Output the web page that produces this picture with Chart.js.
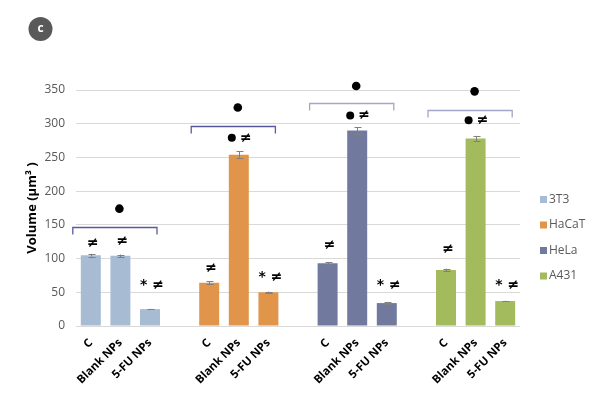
<!DOCTYPE html>
<html>
<head>
<meta charset="utf-8">
<script src="https://cdn.jsdelivr.net/npm/chart.js@4.4.0/dist/chart.umd.min.js"></script>
<style>
  html, body { margin: 0; padding: 0; background: #fff; }
  #wrap { width: 600px; height: 399px; }
</style>
</head>
<body>
<div id="wrap"><canvas id="volumeChart"></canvas></div>
<script>
// cell lines (series) and treatments (bars inside each group)
const cellLines = ['3T3', 'HaCaT', 'HeLa', 'A431'];
const treatments = ['C', 'Blank NPs', '5-FU NPs'];
const colors = ['#a7bbd3', '#e0954b', '#717a9e', '#a3bb5d'];

// mean volume (µm³) per treatment: C, Blank NPs, 5-FU NPs
const vol3T3 = [105, 104, 25];
const volHaCaT = [64, 254, 50];
const volHeLa = [93, 290, 34];
const volA431 = [83, 278, 37];

// error bars
const err3T3 = [2, 2, 0.5];
const errHaCaT = [2, 5, 1];
const errHeLa = [2, 5, 1.5];
const errA431 = [2, 4, 0.5];

// significance marks over the bars and the level (in µm³) they sit at
const marks3T3 = ['≠', '≠', '* ≠'];
const marksHaCaT = ['≠', '', '* ≠'];
const marksHeLa = ['≠', '', '* ≠'];
const marksA431 = ['≠', '', '* ≠'];
const markLevel3T3 = [122, 126, 61];
const markLevelHaCaT = [86, 0, 72];
const markLevelHeLa = [119, 0, 61];
const markLevelA431 = [114, 0, 60];

// "● ≠" over the Blank NPs bar, bracket and the dot above the bracket
const innerMarkLevel = [null, 279, 312, 305];
const bracketLevel = [147, 297, 330, 320];
const dotLevel = [174, 324, 356, 348];
const bracketColors = ['#575a9f', '#575a9f', '#a3a6c9', '#a3a6c9'];

const volumes = [vol3T3, volHaCaT, volHeLa, volA431];
const errors = [err3T3, errHaCaT, errHeLa, errA431];
const marks = [marks3T3, marksHaCaT, marksHeLa, marksA431];
const markLevels = [markLevel3T3, markLevelHaCaT, markLevelHeLa, markLevelA431];

// one empty slot between groups
const slotsPerGroup = treatments.length + 1;
const labels = [];
cellLines.forEach((c, g) => {
  treatments.forEach(t => labels.push(t));
  if (g < cellLines.length - 1) labels.push('');
});

const datasets = cellLines.map((name, g) => {
  const data = labels.map(() => null);
  volumes[g].forEach((v, i) => { data[g * slotsPerGroup + i] = v; });
  return {
    label: name,
    data: data,
    backgroundColor: colors[g],
    borderWidth: 0
  };
});

const errorBars = {
  id: 'errorBars',
  afterDatasetsDraw(chart) {
    const ctx = chart.ctx;
    const y = chart.scales.y;
    ctx.save();
    ctx.strokeStyle = '#808080';
    ctx.lineWidth = 1;
    cellLines.forEach((c, g) => {
      const meta = chart.getDatasetMeta(g);
      volumes[g].forEach((v, i) => {
        const bar = meta.data[g * slotsPerGroup + i];
        const top = y.getPixelForValue(v + errors[g][i]);
        const bot = y.getPixelForValue(v - errors[g][i]);
        const x = Math.round(bar.x) + 0.5;
        ctx.beginPath();
        ctx.moveTo(x, top); ctx.lineTo(x, bot);
        ctx.moveTo(x - 3, Math.round(top) + 0.5); ctx.lineTo(x + 4, Math.round(top) + 0.5);
        ctx.moveTo(x - 3, Math.round(bot) + 0.5); ctx.lineTo(x + 4, Math.round(bot) + 0.5);
        ctx.stroke();
      });
    });
    ctx.restore();
  }
};

// legend on the right, one row per cell line
const sideLegend = {
  id: 'sideLegend',
  afterDraw(chart) {
    const ctx = chart.ctx;
    const area = chart.chartArea;
    const lx = chart.width - 60;
    ctx.save();
    ctx.font = '12px "Open Sans"';
    ctx.textBaseline = 'middle';
    ctx.textAlign = 'left';
    cellLines.forEach((name, i) => {
      const cy = area.top + 109.5 + i * 25.5;
      ctx.fillStyle = colors[i];
      ctx.fillRect(lx, cy - 3.5, 7, 7);
      ctx.fillStyle = '#595959';
      ctx.fillText(name, lx + 9, cy);
    });
    ctx.restore();
  }
};

const annotations = {
  id: 'annotations',
  afterDraw(chart) {
    const ctx = chart.ctx;
    const y = chart.scales.y;
    ctx.save();
    ctx.fillStyle = '#000';
    ctx.textAlign = 'center';
    ctx.textBaseline = 'middle';
    ctx.font = 'bold 14px "DejaVu Sans"';
    cellLines.forEach((c, g) => {
      const meta = chart.getDatasetMeta(g);
      const bars = volumes[g].map((v, i) => meta.data[g * slotsPerGroup + i]);
      marks[g].forEach((m, i) => {
        if (!m) return;
        ctx.fillText(m, bars[i].x + 2, y.getPixelForValue(markLevels[g][i]));
      });
      if (innerMarkLevel[g] !== null) {
        const yy = y.getPixelForValue(innerMarkLevel[g]);
        ctx.beginPath();
        ctx.arc(bars[1].x - 7, yy, 4, 0, Math.PI * 2);
        ctx.fill();
        ctx.fillText('≠', bars[1].x + 7, yy);
      }
      const center = bars[1].x;
      ctx.beginPath();
      ctx.arc(center - 1, y.getPixelForValue(dotLevel[g]), 4.3, 0, Math.PI * 2);
      ctx.fill();
      const left = bars[0].x - bars[0].width / 2 - 8;
      const right = bars[2].x + bars[2].width / 2 - 3;
      const by = Math.round(y.getPixelForValue(bracketLevel[g])) + 0.5;
      ctx.strokeStyle = bracketColors[g];
      ctx.lineWidth = 1.3;
      ctx.beginPath();
      ctx.moveTo(left, by + 7); ctx.lineTo(left, by); ctx.lineTo(right, by); ctx.lineTo(right, by + 7);
      ctx.stroke();
    });
    // panel letter
    ctx.fillStyle = '#595959';
    ctx.beginPath();
    ctx.arc(40.5, 29, 12, 0, Math.PI * 2);
    ctx.fill();
    ctx.fillStyle = '#fff';
    ctx.font = 'bold 12px "Open Sans"';
    ctx.fillText('c', 40.5, 28.5);
    ctx.restore();
  }
};

const ctx = document.getElementById('volumeChart').getContext('2d');
const volumeChart = new Chart(ctx, {
  type: 'bar',
  data: { labels: labels, datasets: datasets },
  options: {
    responsive: true,
    maintainAspectRatio: false,
    animation: false,
    layout: { padding: { top: 90, bottom: 0, left: 0, right: 80 } },
    datasets: {
      bar: { categoryPercentage: 1, barPercentage: 0.675 }
    },
    plugins: {
      tooltip: { enabled: false },
      legend: { display: false }
    },
    scales: {
      x: {
        stacked: true,
        grid: { display: false },
        border: { display: false },
        afterFit(scale) { scale.height = 73; },
        ticks: {
          autoSkip: false,
          minRotation: 45,
          maxRotation: 45,
          padding: 2,
          color: '#000',
          font: { family: 'Open Sans', size: 11.5, weight: 'bold' }
        }
      },
      y: {
        min: 0,
        max: 350,
        afterFit(scale) { scale.width = 76; },
        grid: { color: '#d9d9d9', drawTicks: false },
        border: { display: false },
        ticks: {
          stepSize: 50,
          padding: 11,
          color: '#595959',
          font: { family: 'Open Sans', size: 12 }
        },
        title: {
          display: true,
          text: 'Volume (μm³ )',
          color: '#000',
          padding: { top: 24, bottom: 0 },
          font: { family: 'Open Sans', size: 13, weight: 'bold' }
        }
      }
    }
  },
  plugins: [errorBars, sideLegend, annotations]
});
</script>
</body>
</html>
